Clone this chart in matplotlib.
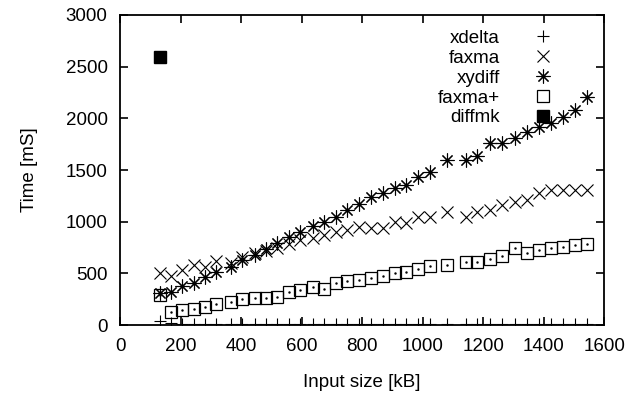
import matplotlib
matplotlib.use('Agg')
import matplotlib.pyplot as plt

plt.rcParams['font.family'] = ['Liberation Sans', 'DejaVu Sans']

# --- Data ---
input_kb = [130, 168, 206, 245, 281, 318, 366, 404, 445, 483, 519, 558,
            596, 637, 673, 712, 750, 791, 829, 868, 907, 945, 984, 1024,
            1082, 1142, 1181, 1222, 1263, 1304, 1345, 1384, 1425, 1465, 1505, 1545]

xdelta = [40, 15, 12, 12, 12, 12, 12, 12, 12, 12, 12, 12,
          12, 12, 12, 12, 12, 12, 12, 12, 12, 12, 12, 12,
          12, 12, 12, 12, 12, 12, 12, 12, 12, 12, 12, 12]

faxma = [500, 470, 530, 580, 560, 620, 600, 660, 700, 720, 742, 780,
         820, 840, 870, 900, 920, 950, 935, 935, 1000, 990, 1048, 1048,
         1097, 1050, 1097, 1110, 1161, 1194, 1210, 1275, 1306, 1306, 1306, 1306]

xydiff = [313, 323, 377, 410, 468, 516, 564, 629, 677, 735, 790, 849,
          897, 961, 1000, 1042, 1113, 1171, 1242, 1274, 1323, 1355, 1435, 1484,
          1597, 1600, 1640, 1758, 1758, 1806, 1871, 1920, 1952, 2016, 2081, 2203]

faxma_plus = [290, 129, 145, 155, 177, 200, 220, 249, 264, 258, 274, 322,
              339, 365, 348, 403, 429, 435, 460, 478, 506, 510, 539, 571,
              578, 610, 613, 637, 668, 742, 700, 726, 748, 758, 774, 784]

diffmk_x = [130]
diffmk = [2590]

# --- Plot ---
fig = plt.figure(figsize=(6.26, 3.94), dpi=100)
ax = fig.add_axes([0.192, 0.175, 0.773, 0.787])

fs = 13.5
ms = 9
ax.plot(input_kb, xdelta, linestyle='none', marker='+', ms=ms, mew=0.8,
        color='black', label='xdelta')
ax.plot(input_kb, faxma, linestyle='none', marker='x', ms=ms, mew=0.8,
        color='black', label='faxma')
ax.plot(input_kb, xydiff, linestyle='none', marker=(8, 2, 0), ms=ms + 1, mew=0.8,
        color='black', label='xydiff')
ax.plot(input_kb, faxma_plus, linestyle='none', marker='s', ms=ms - 1, mew=0.9,
        mfc='none', color='black', label='faxma+')
ax.plot(input_kb, faxma_plus, linestyle='none', marker='.', ms=1.5,
        color='black')
ax.plot(diffmk_x, diffmk, linestyle='none', marker='s', ms=ms, color='black',
        label='diffmk')

ax.set_xlim(0, 1600)
ax.set_ylim(0, 3000)
ax.set_xticks(range(0, 1601, 200))
ax.set_yticks(range(0, 3001, 500))
ax.tick_params(direction='in', length=6, width=1.2, top=True, right=True,
               labelsize=fs, pad=9)
for s in ax.spines.values():
    s.set_linewidth(1.3)

ax.set_xlabel('Input size [kB]', fontsize=fs, labelpad=14)
ax.set_ylabel('Time [mS]', fontsize=fs, labelpad=20)

leg = ax.legend(loc='upper right', frameon=False, markerfirst=False,
                fontsize=fs, handlelength=1.2, handletextpad=1.7,
                labelspacing=0.15, borderaxespad=0.0,
                bbox_to_anchor=(0.913, 0.977))

fig.savefig('out.png', dpi=100)
